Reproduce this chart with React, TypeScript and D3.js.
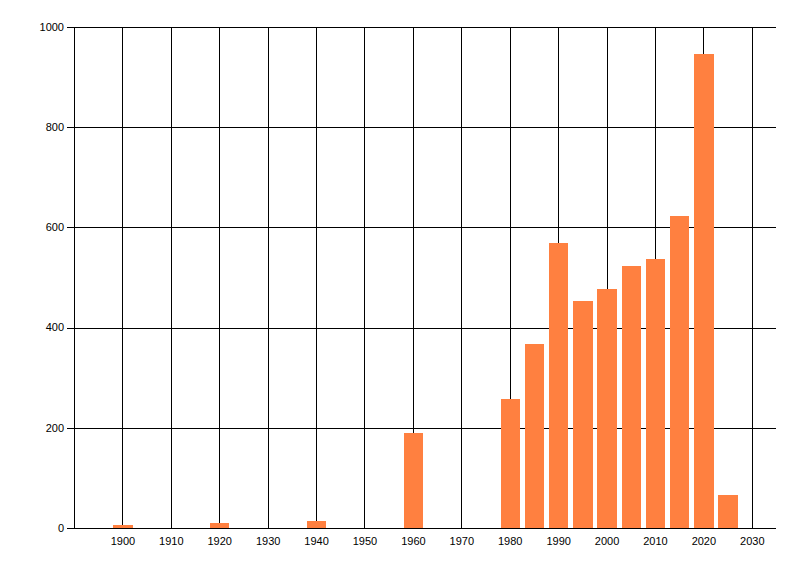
import React from "react";
import * as d3 from "d3";

// years (bar centres) and counts
const years = [1900, 1920, 1940, 1960, 1980, 1985, 1990, 1995, 2000, 2005, 2010, 2015, 2020, 2025];
const counts = [6, 10, 14, 190, 257, 367, 568, 453, 477, 522, 536, 622, 946, 66];

const yTicks = [0, 200, 400, 600, 800, 1000];
const xTicks = [1900, 1910, 1920, 1930, 1940, 1950, 1960, 1970, 1980, 1990, 2000, 2010, 2020, 2030];

const width = 800;
const height = 576;

const left = 74;
const right = 776;
const top = 27;
const bottom = 528;

const barYears = 4;
const barColor = "#ff8040";

const x = d3.scaleLinear().domain([1890, 2035]).range([left, right]);
const y = d3.scaleLinear().domain([0, 1000]).range([bottom, top]);

const App = () => {
  const bw = x(1890 + barYears) - x(1890);
  return (
    <svg
      width={width}
      height={height}
      style={{ position: "absolute", left: 0, top: 0, background: "#fff" }}
      fontFamily="'Liberation Sans', Arial, sans-serif"
      fontSize={11}
    >
      {/* horizontal grid + y ticks */}
      {yTicks.map((t) => (
        <g key={"y" + t}>
          <line
            x1={left - 7}
            x2={right}
            y1={Math.round(y(t)) + 0.5}
            y2={Math.round(y(t)) + 0.5}
            stroke="#000"
          />
          <text x={left - 10} y={y(t)} dy="0.35em" textAnchor="end" fill="#000">
            {t}
          </text>
        </g>
      ))}
      {/* vertical grid */}
      {[1890, ...xTicks].map((t) => (
        <line
          key={"x" + t}
          x1={Math.round(x(t)) + 0.5}
          x2={Math.round(x(t)) + 0.5}
          y1={top}
          y2={bottom + 1}
          stroke="#000"
        />
      ))}
      {xTicks.map((t) => (
        <text key={"xl" + t} x={x(t) + 0.5} y={bottom + 17} textAnchor="middle" fill="#000">
          {t}
        </text>
      ))}
      {/* bars */}
      {years.map((yr, i) => (
        <rect
          key={yr}
          x={x(yr) - bw / 2 + 0.5}
          width={bw}
          y={y(counts[i])}
          height={y(0) - y(counts[i])}
          fill={barColor}
          shapeRendering="crispEdges"
        />
      ))}
    </svg>
  );
};

export default App;
